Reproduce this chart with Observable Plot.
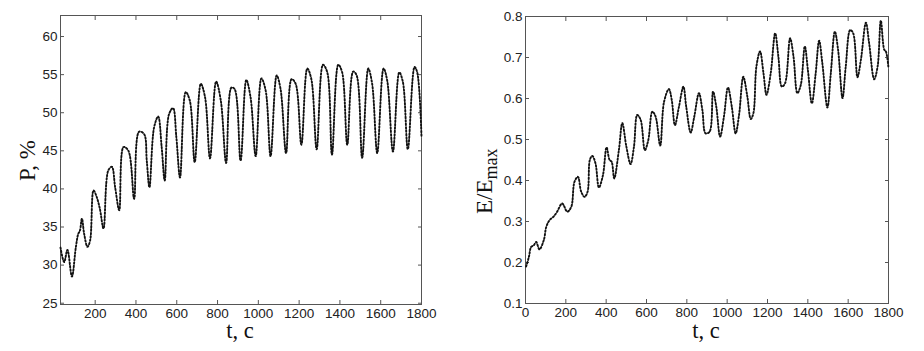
<!DOCTYPE html>
<html>
<head>
<meta charset="utf-8">
<script src="https://cdn.jsdelivr.net/npm/d3@7"></script>
<script src="https://cdn.jsdelivr.net/npm/@observablehq/plot@0.6"></script>
<style>
  html, body { margin: 0; padding: 0; background: #fff; }
  #wrap { position: relative; width: 924px; height: 351px; overflow: hidden; }
  .panel { position: absolute; top: 0; }
  .lab { position: absolute; font-family: "Liberation Serif", "DejaVu Serif", serif; font-size: 23px; color: #111; white-space: nowrap; }
  .rot { transform-origin: 0 0; transform: rotate(-90deg); line-height: 23px; }
  .hor { transform: translateX(-50%); line-height: 8px; font-size: 22.5px; }
  .lab sub { font-size: 18px; vertical-align: -5px; line-height: 0; }
</style>
</head>
<body>
<div id="wrap">
  <div class="panel" id="left" style="left:0px"></div>
  <div class="panel" id="right" style="left:462px"></div>
  <div class="lab rot" style="left:16px; top:181px">P, %</div>
  <div class="lab hor" style="left:240px; top:327px">t, c</div>
  <div class="lab rot" style="left:473px; top:214px">E/E<sub>max</sub></div>
  <div class="lab hor" style="left:706px; top:327px">t, c</div>
</div>
<script>
// Left panel: P, % versus t, c
const tP = [30,48,64,86,105,117,125,135,146,162,175,192,208,223,241,264,282,298,318,339,363,391,415,440,453,466,489,509,526,541,562,582,598,616,644,664,688,718,739,763,793,816,842,868,884,913,941,962,987,1015,1036,1060,1090,1109,1136,1163,1183,1211,1240,1260,1286,1317,1338,1361,1392,1411,1436,1465,1482,1509,1539,1558,1583,1614,1632,1660,1691,1709,1733,1766,1779,1800];
const P = [32.3,30.4,32.0,28.5,32.3,34.1,34.5,36.1,34.1,32.4,33.2,39.8,38.9,37.4,34.8,42.4,42.9,40.2,37.2,45.5,45.0,38.7,47.5,47.2,43.7,40.2,48.1,49.5,45.5,41.1,49.8,50.6,46.8,41.5,52.7,51.6,43.5,53.8,52.0,44.0,54.1,51.6,43.4,53.3,53.1,43.7,54.3,52.0,44.3,54.5,52.9,44.3,54.9,53.1,44.7,54.4,53.8,45.8,55.8,54.4,45.2,56.3,55.3,44.5,56.3,55.3,45.8,55.4,54.9,44.1,55.8,53.8,44.7,55.8,54.2,44.9,55.3,54.0,45.2,56.0,55.3,46.8];
const pXTicks = [200,400,600,800,1000,1200,1400,1600,1800];
const pYTicks = [25,30,35,40,45,50,55,60];

// Right panel: E/Emax versus t, c
const tE = [3,17,28,41,53,69,91,103,119,141,157,182,207,227,243,260,276,293,308,319,331,347,364,384,402,417,427,440,463,480,500,521,538,554,571,592,609,629,645,668,687,711,725,741,761,783,797,819,837,860,877,893,913,930,946,965,984,1004,1023,1042,1059,1080,1100,1117,1130,1145,1163,1180,1195,1216,1238,1254,1271,1287,1312,1329,1348,1365,1385,1401,1420,1439,1456,1472,1497,1514,1534,1550,1572,1588,1610,1625,1646,1663,1688,1704,1729,1746,1762,1779,1787,1800];
const E = [0.190,0.214,0.238,0.242,0.250,0.232,0.255,0.287,0.303,0.313,0.324,0.344,0.324,0.336,0.397,0.409,0.373,0.360,0.373,0.450,0.460,0.442,0.383,0.413,0.481,0.450,0.446,0.405,0.474,0.540,0.483,0.440,0.483,0.560,0.548,0.474,0.499,0.568,0.556,0.485,0.592,0.623,0.597,0.535,0.580,0.629,0.580,0.517,0.556,0.613,0.572,0.515,0.519,0.617,0.580,0.507,0.556,0.627,0.580,0.515,0.560,0.653,0.605,0.550,0.564,0.678,0.715,0.662,0.609,0.662,0.759,0.702,0.629,0.637,0.747,0.702,0.613,0.633,0.727,0.666,0.588,0.662,0.741,0.686,0.578,0.662,0.763,0.719,0.601,0.678,0.767,0.759,0.652,0.694,0.785,0.735,0.647,0.678,0.790,0.719,0.715,0.674];
const eXTicks = [0,200,400,600,800,1000,1200,1400,1600,1800];
const eYTicks = [0.1,0.2,0.3,0.4,0.5,0.6,0.7,0.8];

const pData = tP.map((t, i) => ({t, v: P[i]}));
const eData = tE.map((t, i) => ({t, v: E[i]}));

const tickFont = {fontFamily: "'Liberation Sans', Arial, sans-serif", fontSize: "13.5px", color: "#222", background: "transparent", overflow: "visible"};

function panel({data, xDomain, yDomain, xTicks, yTicks, yFmt, margins}) {
  return Plot.plot({
    width: 462, height: 351,
    ...margins,
    style: tickFont,
    x: {domain: xDomain},
    y: {domain: yDomain},
    marks: [
      Plot.frame({stroke: "#555", strokeWidth: 1}),
      Plot.axisX({anchor: "bottom", ticks: xTicks, tickSize: -4, tickPadding: 8, label: null, stroke: "#555", tickFormat: d => String(d)}),
      Plot.axisX({anchor: "top", ticks: xTicks, tickSize: -4, label: null, stroke: "#555", tickFormat: () => ""}),
      Plot.axisY({anchor: "left", ticks: yTicks, tickSize: -4, tickPadding: 7, label: null, stroke: "#555", tickFormat: yFmt}),
      Plot.axisY({anchor: "right", ticks: yTicks, tickSize: -4, label: null, stroke: "#555", tickFormat: () => ""}),
      Plot.line(data, {x: "t", y: "v", curve: "catmull-rom", stroke: "#aaa", strokeWidth: 0.5}),
      Plot.line(data, {x: "t", y: "v", curve: "catmull-rom", stroke: "#111", strokeWidth: 1.9, strokeDasharray: "1.4 2"})
    ]
  });
}

document.getElementById("left").append(panel({
  data: pData, xDomain: [30, 1800], yDomain: [24.83, 62.76],
  xTicks: pXTicks, yTicks: pYTicks, yFmt: d => String(d),
  margins: {marginLeft: 60, marginRight: 41, marginTop: 15, marginBottom: 47}
}));

document.getElementById("right").append(panel({
  data: eData, xDomain: [0, 1800], yDomain: [0.1, 0.8],
  xTicks: eXTicks, yTicks: eYTicks, yFmt: d3.format(".1f"),
  margins: {marginLeft: 63, marginRight: 36, marginTop: 16, marginBottom: 48}
}));
</script>
</body>
</html>
